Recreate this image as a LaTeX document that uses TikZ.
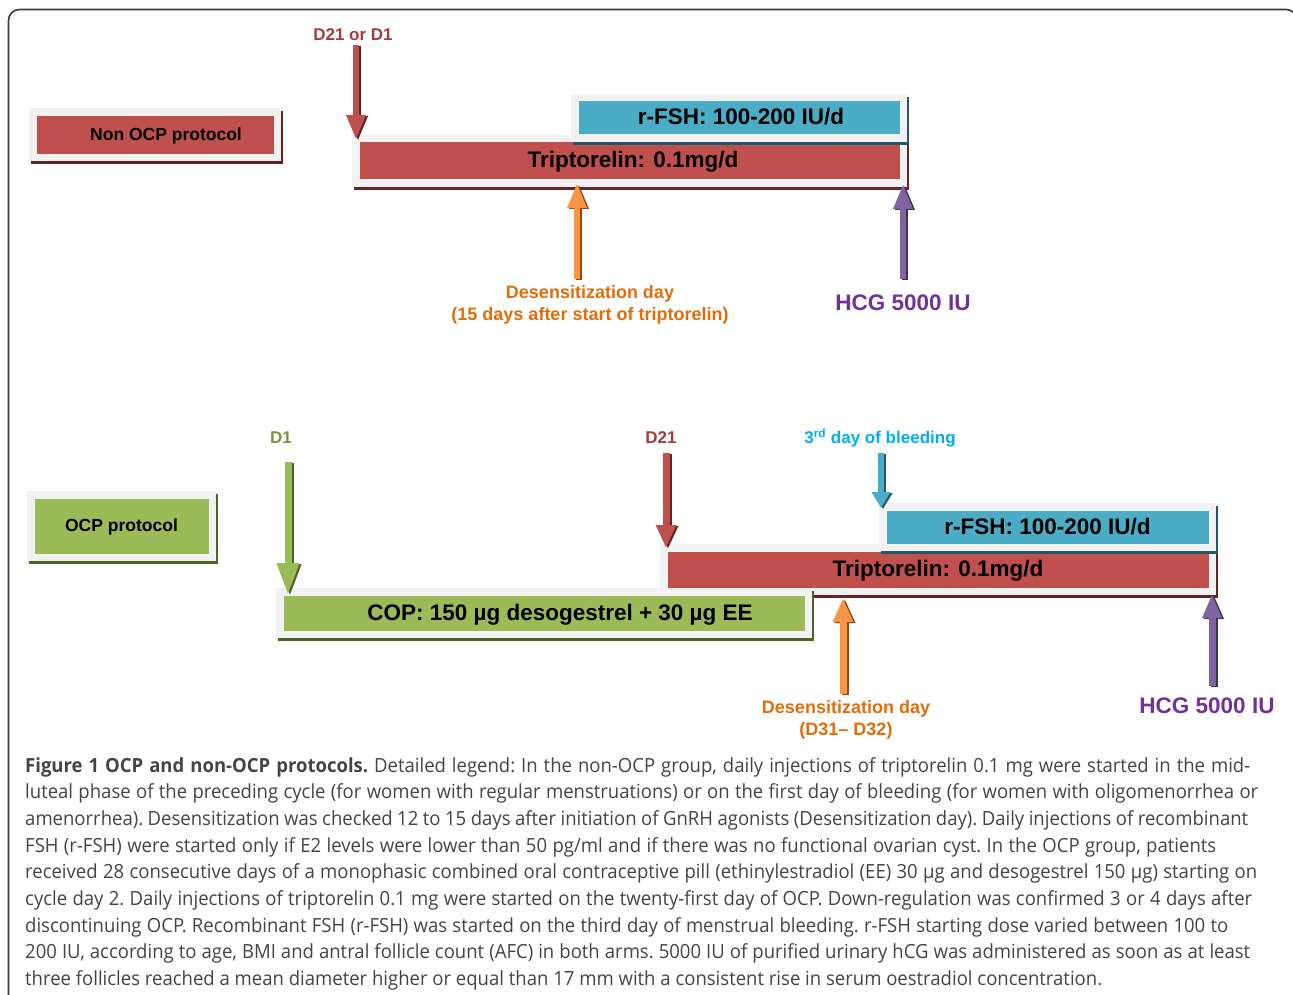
\documentclass[tikz,border=0pt]{standalone}
\usepackage{fontspec}
\setmainfont{Liberation Sans}
\newfontfamily\capfont[FakeStretch=0.95]{Open Sans}
\usetikzlibrary{arrows.meta,shadows}

\definecolor{redF}{HTML}{C0504D}
\definecolor{redS}{HTML}{632523}
\definecolor{blueF}{HTML}{4BACC6}
\definecolor{blueS}{HTML}{215968}
\definecolor{greenF}{HTML}{9BBB59}
\definecolor{greenS}{HTML}{4F6228}
\definecolor{orangeF}{HTML}{F79646}
\definecolor{orangeS}{HTML}{984807}
\definecolor{orangeT}{HTML}{E36C09}
\definecolor{purpleF}{HTML}{8064A2}
\definecolor{purpleS}{HTML}{3F3151}
\definecolor{purpleT}{HTML}{7030A0}
\definecolor{cyanT}{HTML}{00B0F0}
\definecolor{darkredT}{HTML}{A33D3B}
\definecolor{oliveT}{HTML}{77933C}
\definecolor{frameG}{HTML}{F2F2F2}
\definecolor{capG}{HTML}{444444}
\definecolor{borderG}{HTML}{3A3A3A}

\tikzset{
  barbox/.style 2 args={rectangle, inner sep=0pt, fill=frameG,
    general shadow={fill=#2, shadow xshift=2pt, shadow yshift=-3pt},
    path picture={\fill[#1] ([shift={(7.5pt,-7.5pt)}]path picture bounding box.north west)
       rectangle ([shift={(-7.5pt,7.5pt)}]path picture bounding box.south east);},
    font=\bfseries\fontsize{22.5}{27}\selectfont, text=black,
    text height=14pt, text depth=0pt},
  smallbar/.style={font=\bfseries\fontsize{17.5}{20}\selectfont, text height=11pt, text depth=0pt},
  lbl/.style={font=\bfseries\fontsize{17}{20}\selectfont, inner sep=0pt},
  lblbig/.style={font=\bfseries\fontsize{22.5}{27}\selectfont, inner sep=0pt},
  lblmid/.style={font=\bfseries\fontsize{18}{22}\selectfont, inner sep=0pt, align=center},
  capline/.style={font=\capfont\fontsize{19.5}{23}\selectfont\frenchspacing, text=capG, inner sep=0pt, anchor=base west}
}

% #1 fill, #2 shadow, #3 shaft width, #4 head width, #5 head length, #6 from, #7 to
\newcommand\blkarrow[7]{%
  \draw[#2, line width=#3, -{Triangle[width=#4,length=#5]}, transform canvas={shift={(2pt,-1pt)}}] (#6) -- (#7);
  \draw[#1, line width=#3, -{Triangle[width=#4,length=#5]}] (#6) -- (#7);
}

\begin{document}
\begin{tikzpicture}[x=1pt,y=-1pt]
\useasboundingbox (0,0) rectangle (1293,995);
\clip (0,0) rectangle (1293,995);
\draw[borderG, line width=1.6pt, rounded corners=11pt] (8.5,1020) -- (8.5,9.5) -- (1297,9.5) -- (1297,1020);

% ---------- Non OCP protocol ----------
\node[barbox={redF}{redS}, smallbar, minimum width=252pt, minimum height=53pt] (nonocp) at (155,135) {\hspace*{22pt}Non OCP protocol};
\node[barbox={redF}{redS}, minimum width=555pt, minimum height=52pt] (trip1) at (629.5,161) {\hspace*{7pt}Triptorelin: 0.1mg/d};
\node[barbox={blueF}{blueS}, minimum width=336pt, minimum height=48pt] (rfsh1) at (739,118) {\hspace*{4pt}r-FSH: 100-200 IU/d};

\node[lbl, text=darkredT] (l1) at (353,35) {D21 or D1};
\node[lblmid, text=orangeT] (des1) at (590,305) {Desensitization day\\(15 days after start of triptorelin)};
\node[lblbig, text=purpleT] (hcg1) at (903,303) {HCG 5000 IU};

\coordinate (a1s) at (356,45);  \coordinate (a1e) at (356,140);
\coordinate (a2s) at (577,279); \coordinate (a2e) at (577,183);
\coordinate (a3s) at (903,279); \coordinate (a3e) at (903,184);
\blkarrow{redF}{redS}{6.5pt}{18pt}{25pt}{a1s}{a1e}
\blkarrow{orangeF}{orangeS}{6.5pt}{18pt}{25pt}{a2s}{a2e}
\blkarrow{purpleF}{purpleS}{6.5pt}{18pt}{25pt}{a3s}{a3e}

% ---------- OCP protocol ----------
\node[barbox={greenF}{greenS}, smallbar, minimum width=189pt, minimum height=70pt] (ocp) at (121.5,526) {OCP protocol};
\node[barbox={redF}{redS}, minimum width=556pt, minimum height=51pt] (trip2) at (938,569.5) {Triptorelin: 0.1mg/d};
\node[barbox={blueF}{blueS}, minimum width=337pt, minimum height=48pt] (rfsh2) at (1047.5,527) {r-FSH: 100-200 IU/d};
\node[barbox={greenF}{greenS}, minimum width=536pt, minimum height=50pt] (cop) at (544,613) {\hspace*{32pt}COP: 150 µg desogestrel + 30 µg EE};

\node[lbl, text=oliveT] (l2) at (281,438) {D1};
\node[lbl, text=darkredT] (l3) at (661,438) {D21};
\node[lbl, text=cyanT] (l4) at (880,438) {3\textsuperscript{rd} day of bleeding};
\node[lblmid, text=orangeT] (des2) at (846,720) {Desensitization day\\(D31– D32)};
\node[lblbig, text=purpleT] (hcg2) at (1207,706) {HCG 5000 IU};

\coordinate (b1s) at (288,462);  \coordinate (b1e) at (288,595);
\coordinate (b2s) at (666,453);  \coordinate (b2e) at (666,548);
\coordinate (b3s) at (881,453);  \coordinate (b3e) at (881,508);
\coordinate (b4s) at (843,694);  \coordinate (b4e) at (843,598);
\coordinate (b5s) at (1212,686); \coordinate (b5e) at (1212,594);
\blkarrow{greenF}{greenS}{7pt}{21pt}{32pt}{b1s}{b1e}
\blkarrow{redF}{redS}{7pt}{19pt}{23pt}{b2s}{b2e}
\blkarrow{blueF}{blueS}{6.5pt}{18pt}{16pt}{b3s}{b3e}
\blkarrow{orangeF}{orangeS}{7pt}{19pt}{24pt}{b4s}{b4e}
\blkarrow{purpleF}{purpleS}{7pt}{18pt}{24pt}{b5s}{b5e}

% ---------- caption ----------
\node[capline] (c1) at (25,772) {\makebox[1225pt][s]{\textbf{Figure 1 OCP and non-OCP protocols.} Detailed legend: In the non-OCP group, daily injections of triptorelin 0.1 mg were started in the mid-}};
\node[capline] (c2) at (25,798.7) {\makebox[1233pt][s]{luteal phase of the preceding cycle (for women with regular menstruations) or on the first day of bleeding (for women with oligomenorrhea or}};
\node[capline] (c3) at (25,825.4) {\makebox[1223pt][s]{amenorrhea). Desensitization was checked 12 to 15 days after initiation of GnRH agonists (Desensitization day). Daily injections of recombinant}};
\node[capline] (c4) at (25,852.1) {\makebox[1191pt][s]{FSH (r-FSH) were started only if E2 levels were lower than 50 pg/ml and if there was no functional ovarian cyst. In the OCP group, patients}};
\node[capline] (c5) at (25,878.8) {\makebox[1232pt][s]{received 28 consecutive days of a monophasic combined oral contraceptive pill (ethinylestradiol (EE) 30 µg and desogestrel 150 µg) starting on}};
\node[capline] (c6) at (25,905.5) {\makebox[1227pt][s]{cycle day 2. Daily injections of triptorelin 0.1 mg were started on the twenty-first day of OCP. Down-regulation was confirmed 3 or 4 days after}};
\node[capline] (c7) at (25,932.2) {\makebox[1203pt][s]{discontinuing OCP. Recombinant FSH (r-FSH) was started on the third day of menstrual bleeding. r-FSH starting dose varied between 100 to}};
\node[capline] (c8) at (25,958.9) {\makebox[1225pt][s]{200 IU, according to age, BMI and antral follicle count (AFC) in both arms. 5000 IU of purified urinary hCG was administered as soon as at least}};
\node[capline] (c9) at (25,985.6) {three follicles reached a mean diameter higher or equal than 17 mm with a consistent rise in serum oestradiol concentration.};
\end{tikzpicture}
\end{document}
